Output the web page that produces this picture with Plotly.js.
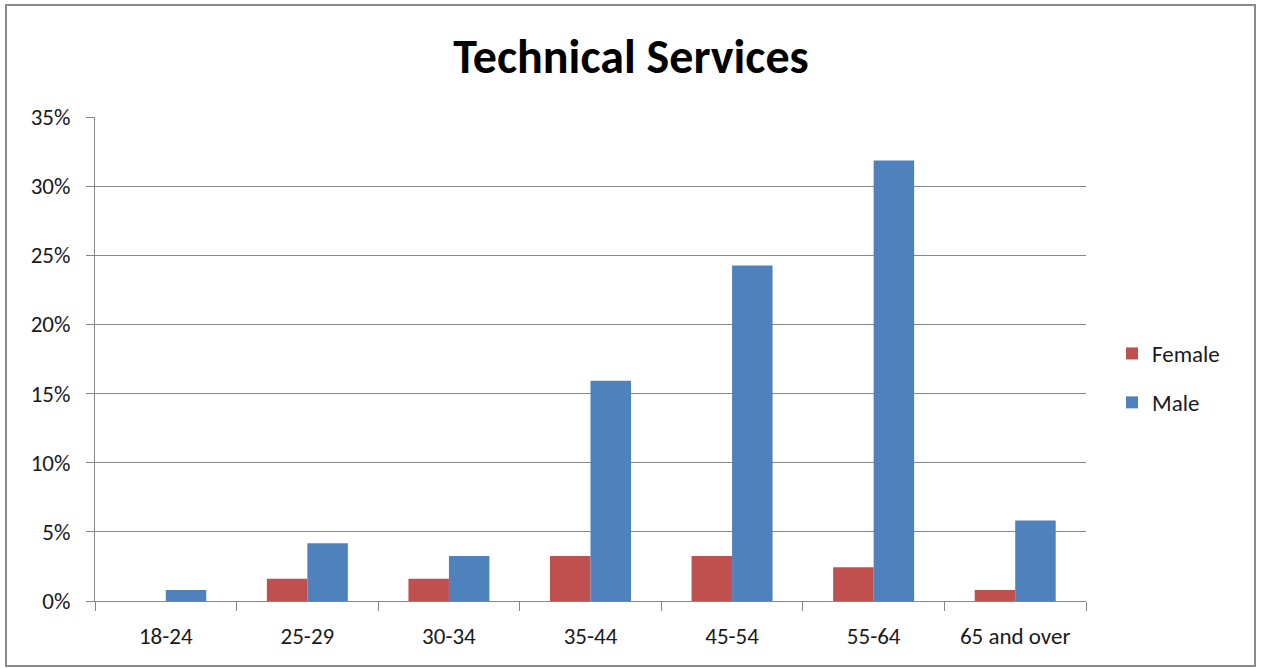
<!DOCTYPE html>
<html>
<head>
<meta charset="utf-8">
<script src="https://cdn.plot.ly/plotly-3.0.1.min.js"></script>
<style>
  html, body { margin: 0; padding: 0; background: #fff; }
  #chart { width: 1262px; height: 668px; }
</style>
</head>
<body>
<div id="chart"></div>
<script>
// Age bands on the category axis
const ageGroups = ['18-24', '25-29', '30-34', '35-44', '45-54', '55-64', '65 and over'];

// Share of staff (percent) in each age band
const femaleShare = [0, 1.6, 1.6, 3.25, 3.25, 2.44, 0.8];
const maleShare = [0.8, 4.17, 3.25, 15.93, 24.27, 31.86, 5.83];

// Y axis ticks
const yTickValues = [0, 5, 10, 15, 20, 25, 30, 35];
const yTickLabels = ['0%', '5%', '10%', '15%', '20%', '25%', '30%', '35%'];

const FONT = 'Carlito, Lato, "Open Sans", sans-serif';
const GRID = '#878787';
const TEXT = '#1a1a1a';

const traces = [
  {
    type: 'bar', name: 'Female', x: ageGroups, y: femaleShare,
    marker: { color: '#C0504D', line: { color: '#C0504D', width: 0 } },
    legendgroup: 'f', hoverinfo: 'x+y'
  },
  {
    type: 'bar', name: 'Male', x: ageGroups, y: maleShare,
    marker: { color: '#4F81BD', line: { color: '#4F81BD', width: 0 } },
    legendgroup: 'm', hoverinfo: 'x+y'
  }
];

// plot area: x 95..1086, y 117..601
const L = 95, R = 1086, T = 117, B = 601;
const W = R - L, H = B - T;
const px = v => (v - L) / W;
const py = v => (B - v) / H;

const layout = {
  width: 1262, height: 668,
  margin: { l: L, r: 1262 - R, t: T, b: 668 - B, pad: 0 },
  paper_bgcolor: '#ffffff', plot_bgcolor: '#ffffff',
  font: { family: FONT, size: 23, color: TEXT },
  title: {
    text: '<b>Technical Services</b>',
    font: { family: FONT, size: 48, color: '#000000' },
    x: 631 / 1262, xref: 'container', xanchor: 'center',
    y: 1 - 56 / 668, yref: 'container', yanchor: 'middle'
  },
  barmode: 'group',
  bargap: 0.428, bargroupgap: 0,
  showlegend: true,
  legend: {
    x: px(1112), xanchor: 'left', y: py(378), yanchor: 'middle',
    font: { family: FONT, size: 23, color: TEXT },
    tracegroupgap: 16, bgcolor: 'rgba(0,0,0,0)', borderwidth: 0
  },
  xaxis: {
    type: 'category',
    showgrid: false, zeroline: false,
    showline: true, linecolor: GRID, linewidth: 1,
    ticks: 'outside', tickson: 'boundaries', ticklen: 9, tickcolor: GRID, tickwidth: 1,
    tickfont: { family: FONT, size: 23, color: TEXT },
    ticklabelstandoff: 14,
    fixedrange: true
  },
  yaxis: {
    range: [0, 35],
    tickvals: yTickValues, ticktext: yTickLabels,
    showgrid: true, gridcolor: GRID, gridwidth: 1,
    zeroline: false,
    showline: true, linecolor: GRID, linewidth: 1,
    ticks: 'outside', ticklen: 8, tickcolor: GRID, tickwidth: 1,
    tickfont: { family: FONT, size: 23, color: TEXT },
    ticklabelstandoff: 11,
    fixedrange: true
  },
  shapes: [
    {
      // outer chart frame
      type: 'rect', xref: 'paper', yref: 'paper', layer: 'above',
      x0: px(6), x1: px(1255), y0: py(666), y1: py(5),
      line: { color: '#8a8a8a', width: 2 }, fillcolor: 'rgba(0,0,0,0)'
    }
  ]
};

Plotly.newPlot('chart', traces, layout, { displayModeBar: false, staticPlot: true });
</script>
</body>
</html>
